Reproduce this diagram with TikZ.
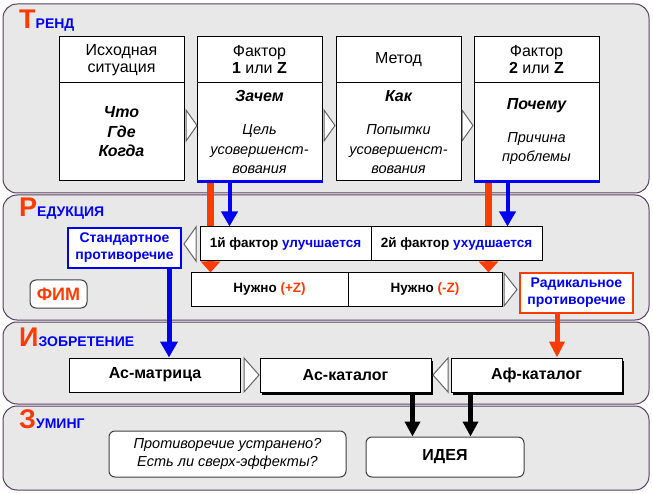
\documentclass[tikz,border=0pt]{standalone}
\usepackage{fontspec}
\setmainfont{Liberation Sans}
\usetikzlibrary{arrows.meta,shadows}

\definecolor{trred}{RGB}{255,60,0}
\definecolor{trblue}{RGB}{0,0,240}
\definecolor{panelfill}{RGB}{232,232,232}
\definecolor{panelline}{RGB}{84,64,96}
\definecolor{chevline}{RGB}{100,100,100}

\pgfdeclarelayer{back}
\pgfdeclarelayer{mid}
\pgfsetlayers{back,mid,main}

\newcommand{\capletter}[1]{{\fontsize{27}{27}\selectfont\color{trred}#1}}
\newcommand{\desc}{\mdseries\fontsize{14.5}{16}\selectfont}

\tikzset{
  panel/.style={draw=panelline, fill=panelfill, rounded corners=14pt, line width=1pt},
  title/.style={anchor=base west, inner sep=0pt, text=trblue, font=\fontsize{14}{16}\selectfont\bfseries},
  box/.style={draw, fill=white, line width=1pt, inner sep=2pt, align=center},
  head/.style={box, minimum width=125pt, minimum height=46pt, font=\fontsize{16}{17}\selectfont},
  body/.style={box, minimum width=125pt, minimum height=98pt, font=\fontsize{16}{19.5}\selectfont\bfseries\itshape},
  factor/.style={box, minimum width=171pt, minimum height=34pt, font=\fontsize{13.5}{16}\selectfont\bfseries},
  need/.style={box, minimum height=33pt, font=\fontsize{13.5}{16}\selectfont\bfseries},
  contra/.style={box, line width=2pt, minimum width=113pt, minimum height=40pt, text=trblue, font=\fontsize{14}{17}\selectfont\bfseries},
  tool/.style={box, minimum width=171pt, minimum height=34pt, font=\fontsize{16}{18}\selectfont\bfseries},
  blackshadow/.style={general shadow={fill=black, shadow xshift=1.5pt, shadow yshift=-2.5pt}},
  roundbox/.style={box, draw=black!75, rounded corners=6pt},
  chev/.style={draw=chevline, fill=white, line width=1pt, line join=miter},
  redarr/.style={draw=trred, line width=#1},
  bluearr/.style={draw=trblue, line width=#1},
}

\begin{document}
\begin{tikzpicture}[x=1pt,y=-1pt]
  \useasboundingbox (0,0) rectangle (653,494);

  % panels
  \begin{pgfonlayer}{back}
    \draw[panel] (3,4) rectangle (649,193);
    \draw[panel] (3,195) rectangle (649,320);
    \draw[panel] (3,322) rectangle (649,404);
    \draw[panel] (3,406) rectangle (649,490);
  \end{pgfonlayer}

  \node[title] (trendt) at (19,29) {\capletter{Т}РЕНД};
  \node[title] (redt) at (19,217) {\capletter{Р}ЕДУКЦИЯ};
  \node[title] (invt) at (19,346) {\capletter{И}ЗОБРЕТЕНИЕ};
  \node[title] (zoomt) at (19,428) {\capletter{З}УМИНГ};

  % trend
  \node[head] (sith) at (121.5,60) {Исходная\\ситуация};
  \node[body] (sitb) at (121.5,132) {Что\\Где\\Когда};
  \node[head] (fac1h) at (259.5,60) {Фактор\\\textbf{1} или \textbf{Z}};
  \node[body] (fac1b) at (259.5,132) {Зачем\\[14pt]\desc Цель\\\desc усовершенст-\\\desc вования};
  \node[head] (meth) at (398.5,60) {Метод};
  \node[body] (methb) at (398.5,132) {Как\\[14pt]\desc Попытки\\\desc усовершенст-\\\desc вования};
  \node[head] (fac2h) at (536.5,60) {Фактор\\\textbf{2} или \textbf{Z}};
  \node[body] (fac2b) at (536.5,132) {Почему\\[13pt]\desc Причина\\\desc проблемы};
  \draw[trblue, line width=3pt] (fac1b.south west) -- (fac1b.south east);
  \draw[trblue, line width=3pt] (fac2b.south west) -- (fac2b.south east);
  \draw[chev] (186,110) -- (197,125.5) -- (186,141) -- cycle;
  \draw[chev] (324,110) -- (335,125.5) -- (324,141) -- cycle;
  \draw[chev] (462,110) -- (473,125.5) -- (462,141) -- cycle;

  % reduction
  \node[factor] (good) at (285.5,244) {1й фактор \textcolor{trblue}{улучшается}};
  \node[factor] (bad) at (456.5,244) {2й фактор \textcolor{trblue}{ухудшается}};
  \node[contra, draw=trblue] (std) at (124.5,248) {Стандартное\\противоречие};
  \draw[chev] (196,227) -- (184,244) -- (196,261) -- cycle;
  \node[roundbox, minimum width=57pt, minimum height=28pt, text=trred,
    font=\fontsize{18}{20}\selectfont\bfseries] (fim) at (58.5,294) {ФИМ};
  \node[need, minimum width=157pt] (plusz) at (269.5,289.5) {Нужно \textcolor{trred}{(+Z)}};
  \node[need, minimum width=154pt] (minusz) at (425,289.5) {Нужно \textcolor{trred}{(-Z)}};
  \draw[chev] (504,273) -- (517,289.5) -- (504,306) -- cycle;
  \node[contra, draw=trred] (rad) at (576.5,293) {Радикальное\\противоречие};

  % invention
  \node[tool] (asm) at (155,375) {Ас-матрица};
  \draw[chev] (244,358) -- (259,375) -- (244,392) -- cycle;
  \node[tool, blackshadow] (ask) at (345.5,375) {Ас-каталог};
  \draw[chev] (448,358) -- (433,375) -- (448,392) -- cycle;
  \node[tool, blackshadow] (afk) at (536.5,375) {Аф-каталог};

  % zooming
  \node[roundbox, minimum width=237pt, minimum height=46pt,
    font=\fontsize{14.5}{18}\selectfont\itshape] (check) at (227.5,454) {Противоречие устранено?\\Есть ли сверх-эффекты?};
  \node[roundbox, minimum width=158pt, minimum height=40pt,
    font=\fontsize{16}{18}\selectfont\bfseries] (idea) at (445,457) {ИДЕЯ};

  % arrows
  \begin{pgfonlayer}{mid}
    \draw[redarr=7pt, -{Triangle[width=19pt,length=11pt]}]
      ([xshift=14pt]fac1b.south west) -- ([xshift=14pt]fac1b.south west |- plusz.north);
    \draw[bluearr=4pt, -{Triangle[width=16pt,length=15pt]}]
      ([xshift=33pt]fac1b.south west) -- ([xshift=33pt]fac1b.south west |- good.north);
    \draw[redarr=7pt, -{Triangle[width=19pt,length=11pt]}]
      ([xshift=15pt]fac2b.south west) -- ([xshift=15pt]fac2b.south west |- minusz.north);
    \draw[bluearr=4pt, -{Triangle[width=16pt,length=15pt]}]
      ([xshift=34pt]fac2b.south west) -- ([xshift=34pt]fac2b.south west |- bad.north);
    \draw[bluearr=5pt, -{Triangle[width=17pt,length=16pt]}]
      ([xshift=-13pt]std.south east) -- ([xshift=-13pt]std.south east |- asm.north);
    \draw[redarr=5pt, -{Triangle[width=15pt,length=16pt]}]
      ([xshift=-19.5pt]rad.south) -- ([xshift=-19.5pt]rad.south |- afk.north);
    \draw[line width=5pt, -{Triangle[width=15pt,length=15pt]}]
      ([xshift=-19pt]ask.south east) -- ([xshift=-19pt]ask.south east |- idea.north);
    \draw[line width=5pt, -{Triangle[width=15pt,length=15pt]}]
      ([xshift=20pt]afk.south west) -- ([xshift=20pt]afk.south west |- idea.north);
  \end{pgfonlayer}
\end{tikzpicture}
\end{document}
